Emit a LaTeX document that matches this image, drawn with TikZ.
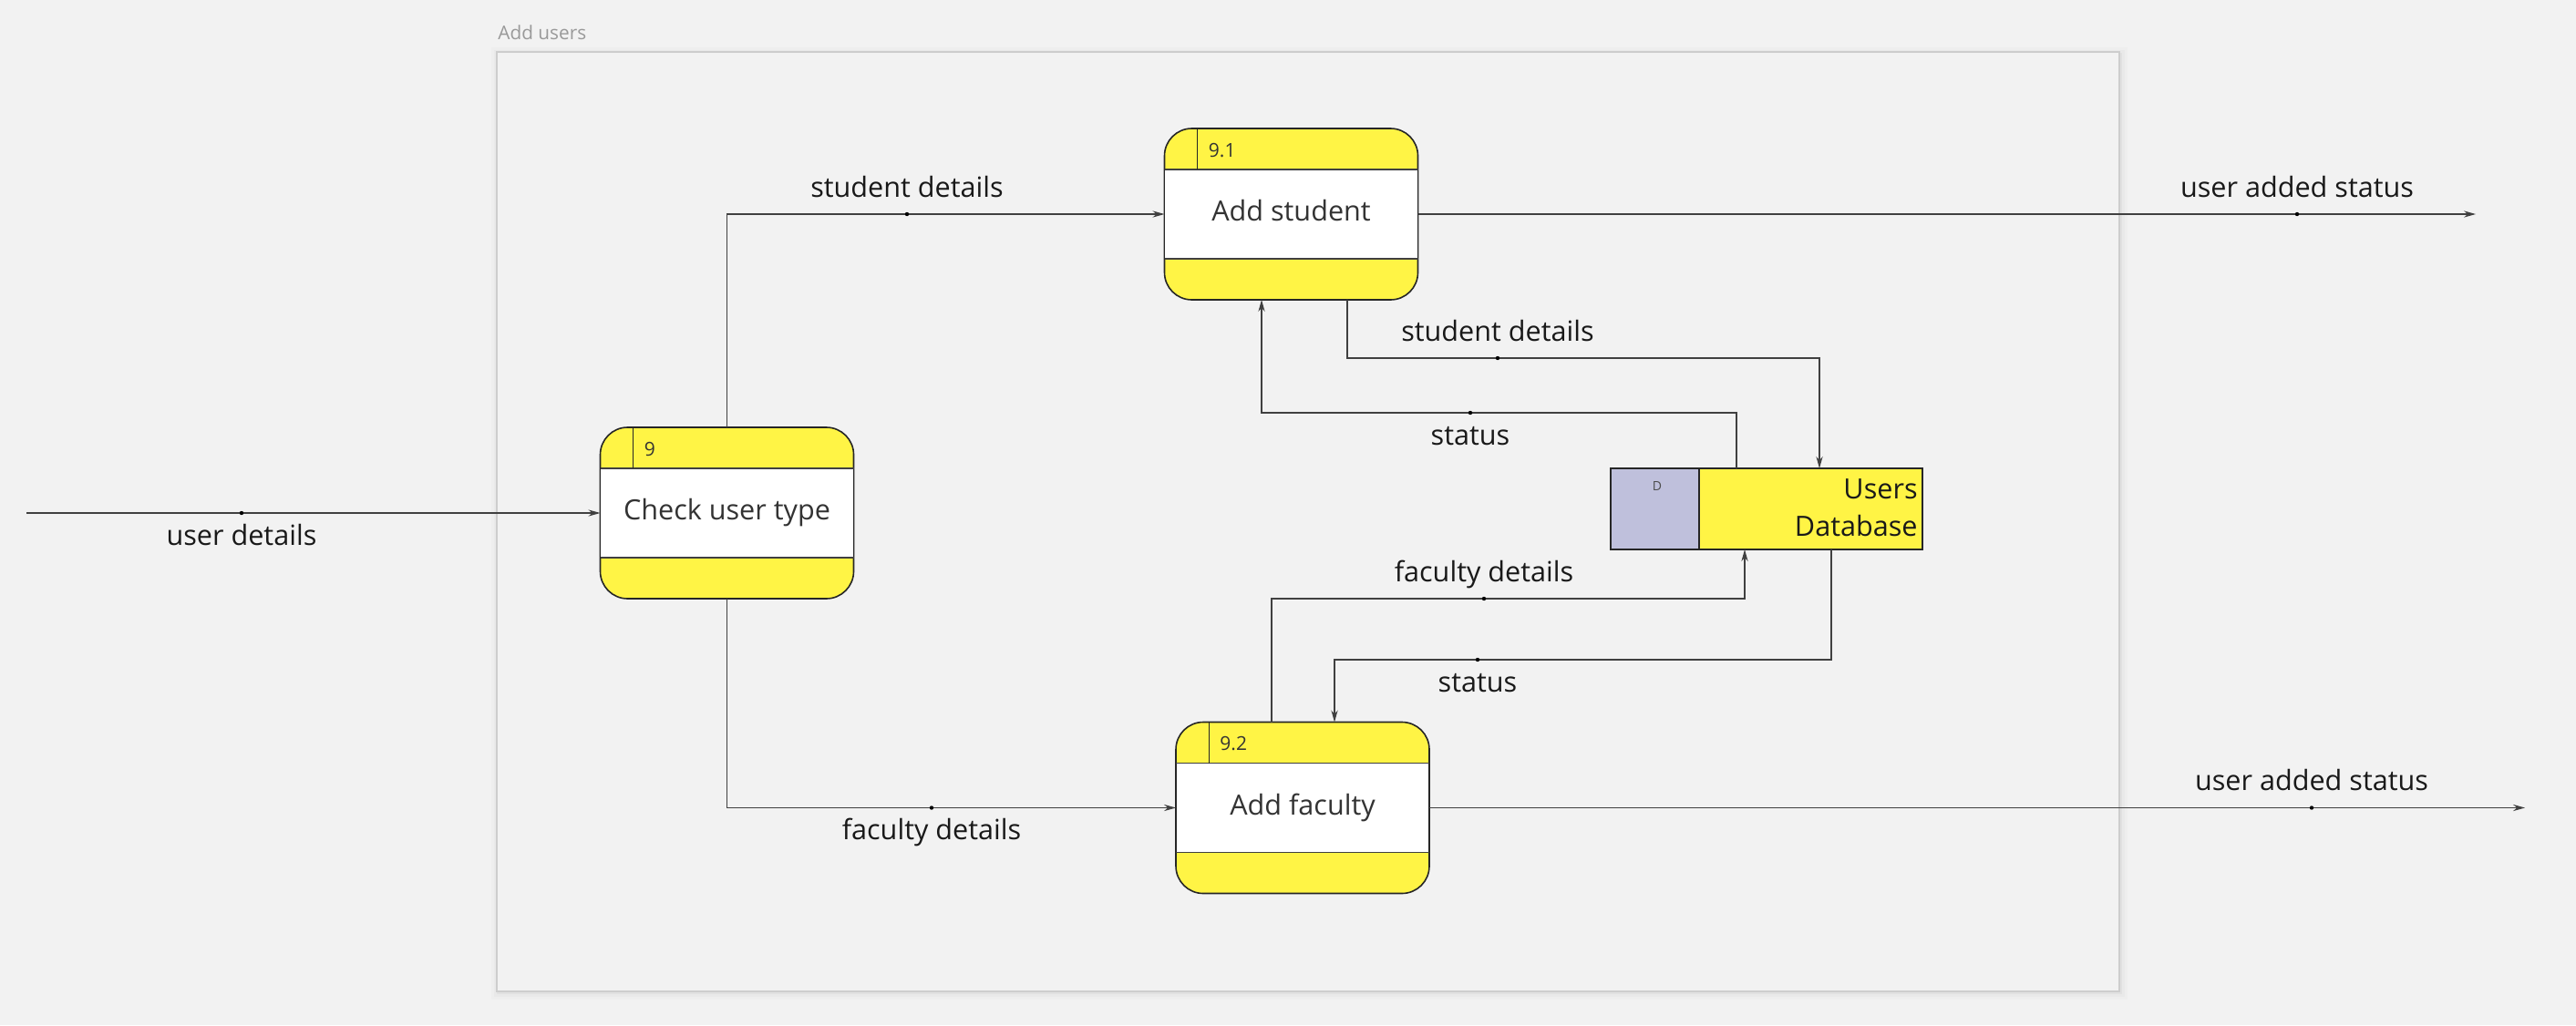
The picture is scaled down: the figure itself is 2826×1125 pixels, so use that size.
\documentclass[tikz,border=0pt]{standalone}
\usepackage{fontspec}
\setmainfont{Open Sans}
\usepackage[rgb]{xcolor}
\usepackage{tikz}
\usetikzlibrary{arrows.meta}

\definecolor{canvas}{RGB}{242,242,242}
\definecolor{framegrey}{RGB}{205,205,205}
\definecolor{procyellow}{RGB}{255,244,69}
\definecolor{storeblue}{RGB}{191,192,220}
\definecolor{inkgrey}{RGB}{51,51,51}

\begin{document}
\begin{tikzpicture}[x=0.5pt, y=-0.5pt,
  procbox/.style={rectangle, fill=procyellow, draw=black!85, line width=0.8pt,
    rounded corners=15pt, minimum width=139pt, minimum height=94pt,
    inner sep=0pt, outer sep=0pt},
  storebox/.style={rectangle, fill=procyellow, draw=black!85, line width=0.8pt,
    minimum width=171pt, minimum height=44.5pt, inner sep=0pt, outer sep=0pt},
  proctext/.style={font=\fontsize{15.3}{18}\selectfont, text=inkgrey,
    text height=11pt, text depth=3.5pt},
  procnum/.style={font=\fontsize{10.5}{12}\selectfont, text=inkgrey,
    anchor=west, inner sep=0pt},
  flowlabel/.style={font=\fontsize{15.3}{18}\selectfont, text=black!90,
    text height=11pt, text depth=3.5pt, inner sep=0pt},
  flowdot/.style={circle, fill=black, inner sep=0pt, minimum size=2.2pt},
  flow/.style={draw=black!75, line width=0.55pt, -{Stealth[length=6.5pt,width=3.6pt]}},
  band/.style={draw=black!75, line width=0.9pt}]

% canvas
\fill[canvas] (0,0) rectangle (2826,1125);
\useasboundingbox (0,0) rectangle (2826,1125);

% Add users frame
\foreach \s/\o in {9/0.015,6/0.02,3/0.03}
  \fill[black, opacity=\o] (545-\s+3,57-\s+4) rectangle (2325+\s,1088+\s);
\filldraw[fill=canvas, draw=framegrey, line width=0.9pt] (545,57) rectangle (2325,1088);
\path
(546,43) node [anchor=base west, inner sep=0pt, text=black!40,
  font=\fontsize{10.4}{12}\selectfont] (frametitle) {Add users};

%
% Processes
%
\node[procbox] (p9)  at (797.5,563)  {};
\node[procbox] (p91) at (1416.5,235) {};
\node[procbox] (p92) at (1429,886.5) {};

\foreach \p in {p9,p91,p92} {
  \fill[white] ([xshift=0.4pt,yshift=-22.5pt]\p.north west) rectangle ([xshift=-0.4pt,yshift=22.5pt]\p.south east);
  \draw[band] ([yshift=-22.5pt]\p.north west) -- ([yshift=-22.5pt]\p.north east);
  \draw[band] ([yshift=22.5pt]\p.south west) -- ([yshift=22.5pt]\p.south east);
  \draw[black!85, line width=0.5pt] ([xshift=18pt]\p.north west) -- ([xshift=18pt,yshift=-22.5pt]\p.north west);
}

% Check user type
\node[proctext] (p9text) at (p9) {Check user type};
\node[procnum] (p9num) at ([xshift=24pt,yshift=-12pt]p9.north west) {9};

% Add student
\node[proctext] (p91text) at (p91) {Add student};
\node[procnum] (p91num) at ([xshift=24pt,yshift=-12pt]p91.north west) {9.1};

% Add faculty
\node[proctext] (p92text) at (p92) {Add faculty};
\node[procnum] (p92num) at ([xshift=24pt,yshift=-12pt]p92.north west) {9.2};

%
% Data store
%
\node[storebox] (db) at (1938,558.5) {};
\filldraw[fill=storeblue, draw=black!85, line width=0.8pt] (db.north west) rectangle ([xshift=48.5pt]db.south west);
\path
(1818,533) node [font=\fontsize{7}{8}\selectfont, text=black!70, inner sep=0pt] (dbnum) {D};
\path
(2104,557) node [anchor=east, align=right, inner sep=0pt, text=black!90,
  font=\fontsize{15.3}{20.5}\selectfont] (dbtext) {Users\\Database};

%
% Data flows
%

% user details
\coordinate (in1) at (29,563);
\draw[flow] (in1) -- (p9.west);
\node[flowdot] (d1) at (265,563) {};
\node[flowlabel] (l1) at (265,590.5) {user details};

% student details
\draw[flow] (p9.north) |- (p91.west);
\node[flowdot] (d2) at (995,235) {};
\node[flowlabel] (l2) at (995,208.5) {student details};

% faculty details
\draw[flow] (p9.south) |- (p92.west);
\node[flowdot] (d3) at (1022,886.5) {};
\node[flowlabel] (l3) at (1022,914) {faculty details};

% user added status (student)
\coordinate (out1) at (2716,235);
\draw[flow] (p91.east) -- (out1);
\node[flowdot] (d4) at (2520,235) {};
\node[flowlabel] (l4) at (2520,208.5) {user added status};

% user added status (faculty)
\coordinate (out2) at (2770,886.5);
\draw[flow] (p92.east) -- (out2);
\node[flowdot] (d5) at (2536,886.5) {};
\node[flowlabel] (l5) at (2536,860) {user added status};

% student details to store
\coordinate (b6a) at (1478,393);
\coordinate (b6b) at (1996,393);
\draw[flow] (b6a |- p91.south) -- (b6a) -- (b6b) -- (b6b |- db.north);
\node[flowdot] (d6) at (1643,393) {};
\node[flowlabel] (l6) at (1643,366.5) {student details};

% status to Add student
\coordinate (b7a) at (1905,453);
\coordinate (b7b) at (1384,453);
\draw[flow] (b7a |- db.north) -- (b7a) -- (b7b) -- (b7b |- p91.south);
\node[flowdot] (d7) at (1613,453) {};
\node[flowlabel] (l7) at (1613,480.5) {status};

% faculty details to store
\coordinate (b8a) at (1395,657);
\coordinate (b8b) at (1914,657);
\draw[flow] (b8a |- p92.north) -- (b8a) -- (b8b) -- (b8b |- db.south);
\node[flowdot] (d8) at (1628,657) {};
\node[flowlabel] (l8) at (1628,630.5) {faculty details};

% status to Add faculty
\coordinate (b9a) at (2009,724);
\coordinate (b9b) at (1464,724);
\draw[flow] (b9a |- db.south) -- (b9a) -- (b9b) -- (b9b |- p92.north);
\node[flowdot] (d9) at (1621,724) {};
\node[flowlabel] (l9) at (1621,751.5) {status};

\end{tikzpicture}
\end{document}
